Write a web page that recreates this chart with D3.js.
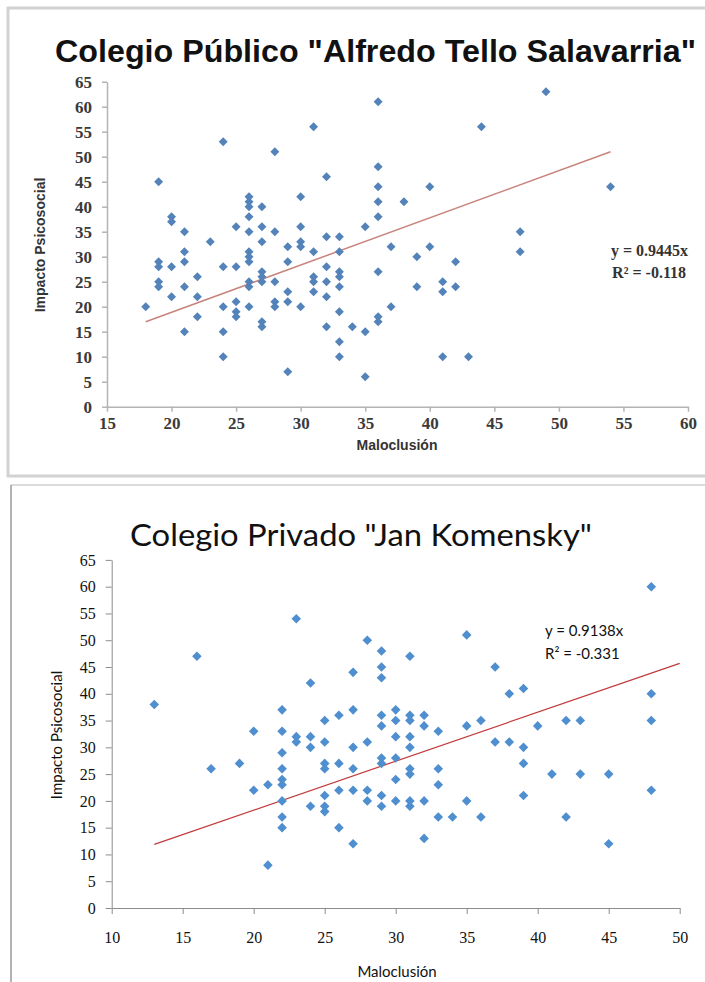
<!DOCTYPE html>
<html>
<head>
<meta charset="utf-8">
<script src="https://cdnjs.cloudflare.com/ajax/libs/d3/7.8.5/d3.min.js"></script>
<style>
  body { margin: 0; background: #fff; }
</style>
</head>
<body>
<script>
//Colegio Público: Maloclusión (x) and Impacto Psicosocial (y).
const publicoX = [18,
  19, 19, 19, 19, 19,
  20, 20, 20, 20,
  21, 21, 21, 21, 21,
  22, 22, 22,
  23,
  24, 24, 24, 24, 24,
  25, 25, 25, 25, 25,
  26, 26, 26, 26, 26, 26, 26, 26, 26, 26, 26,
  27, 27, 27, 27, 27, 27, 27, 27,
  28, 28, 28, 28, 28,
  29, 29, 29, 29, 29,
  30, 30, 30, 30, 30,
  31, 31, 31, 31, 31,
  32, 32, 32, 32, 32, 32,
  33, 33, 33, 33, 33, 33, 33, 33,
  34,
  35, 35, 35,
  36, 36, 36, 36, 36, 36, 36, 36,
  37, 37,
  38,
  39, 39,
  40, 40,
  41, 41, 41,
  42, 42,
  43,
  44,
  47, 47,
  49,
  54];
const publicoY = [20,
  45, 29, 28, 25, 24,
  38, 37, 28, 22,
  35, 31, 29, 24, 15,
  26, 22, 18,
  33,
  53, 28, 20, 15, 10,
  36, 28, 21, 19, 18,
  42, 41, 40, 38, 35, 31, 30, 29, 25, 24, 20,
  40, 36, 33, 27, 26, 25, 17, 16,
  51, 35, 25, 21, 20,
  32, 29, 23, 21, 7,
  42, 36, 33, 32, 20,
  56, 31, 26, 25, 23,
  46, 34, 28, 25, 22, 16,
  34, 31, 27, 26, 24, 19, 13, 10,
  16,
  36, 15, 6,
  61, 48, 44, 41, 38, 27, 18, 17,
  32, 20,
  41,
  30, 24,
  44, 32,
  25, 23, 10,
  29, 24,
  10,
  56,
  35, 31,
  63,
  44];

//Colegio Privado.
const privadoX = [13, 16, 17, 19,
  20, 20,
  21, 21,
  22, 22, 22, 22, 22, 22, 22, 22, 22,
  23, 23, 23,
  24, 24, 24, 24,
  25, 25, 25, 25, 25, 25, 25,
  26, 26, 26, 26,
  27, 27, 27, 27, 27, 27,
  28, 28, 28, 28,
  29, 29, 29, 29, 29, 29, 29, 29, 29,
  30, 30, 30, 30, 30, 30,
  31, 31, 31, 31, 31, 31, 31, 31, 31,
  32, 32, 32, 32,
  33, 33, 33, 33,
  34,
  35, 35, 35,
  36, 36,
  37, 37,
  38, 38,
  39, 39, 39, 39,
  40,
  41,
  42, 42,
  43, 43,
  45, 45,
  48, 48, 48, 48];
const privadoY = [38, 47, 26, 27,
  33, 22,
  23, 8,
  37, 33, 29, 26, 24, 23, 20, 17, 15,
  54, 32, 31,
  42, 32, 30, 19,
  35, 31, 27, 26, 21, 19, 18,
  36, 27, 22, 15,
  44, 37, 30, 26, 22, 12,
  50, 31, 22, 20,
  48, 45, 43, 36, 34, 28, 27, 21, 19,
  37, 35, 32, 28, 24, 20,
  47, 36, 35, 32, 30, 26, 25, 20, 19,
  36, 34, 20, 13,
  33, 26, 23, 17,
  17,
  51, 34, 20,
  35, 17,
  45, 31,
  40, 31,
  41, 30, 27, 21,
  34,
  25,
  35, 17,
  35, 25,
  25, 12,
  60, 40, 35, 22];

const publicoXTicks = [15, 20, 25, 30, 35, 40, 45, 50, 55, 60];
const privadoXTicks = [10, 15, 20, 25, 30, 35, 40, 45, 50];
const yTicks = [0, 5, 10, 15, 20, 25, 30, 35, 40, 45, 50, 55, 60, 65];

const publicoSlope = 0.9445; //Trendline y = 0.9445x
const privadoSlope = 0.9138; //Trendline y = 0.9138x
const publicoTrend = [18, 54]; //Trendline runs over the data only.
const privadoTrend = [13, 50]; //This one is carried on to the end of the axis.

const svgWidth = 705;
const svgHeight = 982;

let svg = d3.select("body")
            .append("svg")
            .attr("width", svgWidth)
            .attr("height", svgHeight);

//Frames round the two pictures.
svg.append("rect")
   .attr("x", 8).attr("y", 8)
   .attr("width", 712).attr("height", 468)
   .attr("fill", "none")
   .attr("stroke", "#d2d2d2")
   .attr("stroke-width", 3);

svg.append("line") //Top edge of the lower frame.
   .attr("x1", 11).attr("x2", 705)
   .attr("y1", 485).attr("y2", 485)
   .attr("stroke", "#cfcfcf")
   .attr("stroke-width", 1.5);

svg.append("line") //Left edge of the lower frame.
   .attr("x1", 11).attr("x2", 11)
   .attr("y1", 485).attr("y2", 982)
   .attr("stroke", "#9a9a9a")
   .attr("stroke-width", 1.5);

const drawChart = (c) => {
  let points = d3.zip(c.xs, c.ys);

  let xScale = d3.scaleLinear()
                 .domain(d3.extent(c.xTicks))
                 .range(c.xRange);

  let yScale = d3.scaleLinear()
                 .domain(d3.extent(yTicks))
                 .range(c.yRange);

  let xAxis = d3.axisBottom(xScale)
                .tickValues(c.xTicks)
                .tickSize(c.tickSize)
                .tickSizeOuter(0)
                .tickPadding(c.xPad);

  let yAxis = d3.axisLeft(yScale)
                .tickValues(yTicks)
                .tickSize(c.tickSize)
                .tickSizeOuter(0)
                .tickPadding(c.yPad);

  let gx = svg.append("g")
              .attr("transform", "translate(0," + c.yRange[0] + ")")
              .call(xAxis);

  let gy = svg.append("g")
              .attr("transform", "translate(" + c.xRange[0] + ",0)")
              .call(yAxis);

  [gx, gy].forEach((g) => {
    g.select(".domain").attr("stroke", c.axisColour).attr("stroke-width", c.axisWidth);
    g.selectAll(".tick line").attr("stroke", c.axisColour).attr("stroke-width", c.axisWidth);
    g.selectAll(".tick text")
     .attr("fill", c.tickColour)
     .style("font-family", c.tickFont)
     .style("font-size", c.tickSizeFont + "px")
     .style("font-weight", c.tickWeight);
  });

  //Trendline through the origin.
  svg.append("line")
     .attr("x1", xScale(c.trend[0])).attr("y1", yScale(c.slope * c.trend[0]))
     .attr("x2", xScale(c.trend[1])).attr("y2", yScale(c.slope * c.trend[1]))
     .attr("stroke", c.lineColour)
     .attr("stroke-width", c.lineWidth);

  //Diamond markers.
  svg.append("g")
     .selectAll("path")
     .data(points)
     .enter()
     .append("path")
     .attr("d", d3.symbol().type(d3.symbolSquare).size(c.markerArea))
     .attr("transform", (d) => "translate(" + xScale(d[0]) + "," + yScale(d[1]) + ") rotate(45)")
     .attr("fill", c.markerColour);
};

drawChart({
  xs: publicoX, ys: publicoY, xTicks: publicoXTicks, slope: publicoSlope, trend: publicoTrend,
  xRange: [107, 688], yRange: [406.7, 81.7],
  tickSize: 5, xPad: 5, yPad: 10,
  axisColour: "#b4b4b4", axisWidth: 1.5,
  tickColour: "#3a3a3a", tickFont: "'Liberation Serif', serif", tickSizeFont: 17, tickWeight: "bold",
  lineColour: "#c8847c", lineWidth: 1.5,
  markerColour: "#5383b9", markerArea: 40
});

drawChart({
  xs: privadoX, ys: privadoY, xTicks: privadoXTicks, slope: privadoSlope, trend: privadoTrend,
  xRange: [111.7, 679.7], yRange: [908, 559.9],
  tickSize: 6, xPad: 18, yPad: 10,
  axisColour: "#8c8c8c", axisWidth: 1,
  tickColour: "#111", tickFont: "'Liberation Serif', serif", tickSizeFont: 16, tickWeight: "normal",
  lineColour: "#c0393b", lineWidth: 1.2,
  markerColour: "#4f8fcf", markerArea: 46
});

//Titles and labels, upper chart.
svg.append("text")
   .attr("x", 55).attr("y", 62)
   .attr("textLength", 641)
   .attr("lengthAdjust", "spacingAndGlyphs")
   .style("font-family", "'Liberation Sans', Arial, sans-serif")
   .style("font-weight", "bold")
   .style("font-size", "31px")
   .attr("fill", "#111")
   .text('Colegio Público "Alfredo Tello Salavarria"');

svg.append("text")
   .attr("transform", "translate(45,245) rotate(-90)")
   .attr("text-anchor", "middle")
   .style("font-family", "'Liberation Sans', Arial, sans-serif")
   .style("font-weight", "bold")
   .style("font-size", "14px")
   .attr("fill", "#333")
   .text("Impacto Psicosocial");

svg.append("text")
   .attr("x", 397).attr("y", 450)
   .attr("text-anchor", "middle")
   .style("font-family", "'Liberation Sans', Arial, sans-serif")
   .style("font-weight", "bold")
   .style("font-size", "14px")
   .attr("fill", "#333")
   .text("Maloclusión");

svg.append("text")
   .attr("x", 688).attr("y", 256)
   .attr("text-anchor", "end")
   .style("font-family", "'Liberation Serif', serif")
   .style("font-weight", "bold")
   .style("font-size", "16px")
   .attr("fill", "#333")
   .text("y = 0.9445x");

svg.append("text")
   .attr("x", 686).attr("y", 278)
   .attr("text-anchor", "end")
   .style("font-family", "'Liberation Serif', serif")
   .style("font-weight", "bold")
   .style("font-size", "16px")
   .attr("fill", "#333")
   .text("R² = -0.118");

//Titles and labels, lower chart.
svg.append("text")
   .attr("x", 130).attr("y", 546)
   .attr("textLength", 462)
   .attr("lengthAdjust", "spacingAndGlyphs")
   .style("font-family", "Lato, 'Open Sans', sans-serif")
   .style("font-size", "31px")
   .attr("fill", "#111")
   .text('Colegio Privado "Jan Komensky"');

svg.append("text")
   .attr("transform", "translate(62,735) rotate(-90)")
   .attr("text-anchor", "middle")
   .style("font-family", "Lato, 'Open Sans', sans-serif")
   .style("font-size", "15px")
   .attr("fill", "#111")
   .text("Impacto Psicosocial");

svg.append("text")
   .attr("x", 397).attr("y", 977)
   .attr("text-anchor", "middle")
   .style("font-family", "Lato, 'Open Sans', sans-serif")
   .style("font-size", "15px")
   .attr("fill", "#111")
   .text("Maloclusión");

svg.append("text")
   .attr("x", 545).attr("y", 636)
   .style("font-family", "Lato, 'Open Sans', sans-serif")
   .style("font-size", "15px")
   .attr("fill", "#111")
   .text("y = 0.9138x");

svg.append("text")
   .attr("x", 545).attr("y", 659)
   .style("font-family", "Lato, 'Open Sans', sans-serif")
   .style("font-size", "15px")
   .attr("fill", "#111")
   .text("R² = -0.331");
</script>
</body>
</html>
